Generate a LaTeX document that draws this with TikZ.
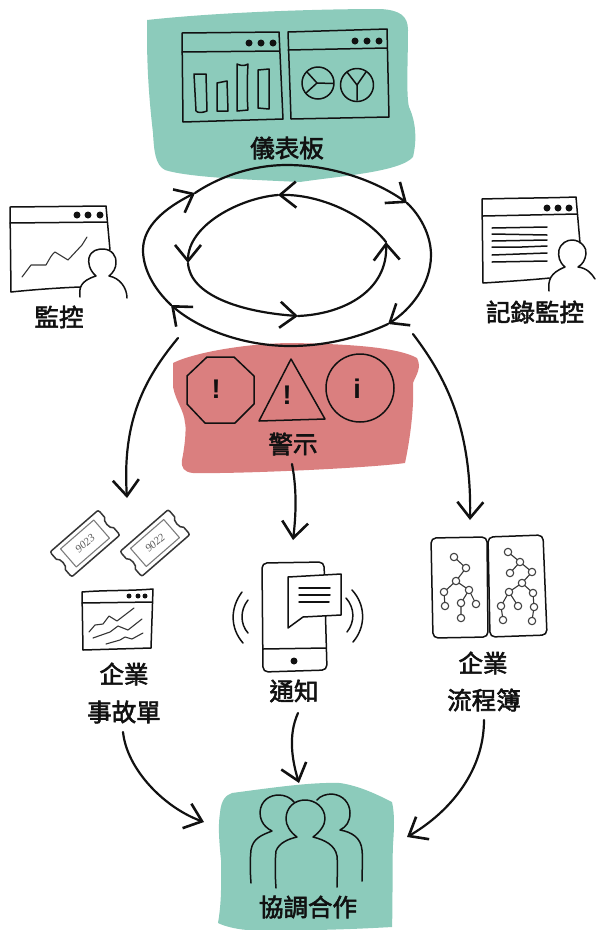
\documentclass[tikz,border=0pt]{standalone}
\usepackage{fontspec}
\usetikzlibrary{arrows.meta}
\newfontfamily\cjk[FakeBold=2.4]{Noto Sans CJK TC}
\newfontfamily\lat{Liberation Sans}
\newfontfamily\hand{Liberation Serif}
\definecolor{ink}{HTML}{111111}
\definecolor{tealblob}{HTML}{8CCBBB}
\definecolor{redblob}{HTML}{DA7F7F}
\tikzset{
  x=1pt,y=-1pt,
  lab/.style={font=\cjk\fontsize{24.5}{24.5}\selectfont,text=ink,inner sep=0pt},
  sym/.style={font=\lat\bfseries\fontsize{27}{27}\selectfont,text=ink,inner sep=0pt},
  blob/.style={line join=round,draw=none},
  sk/.style={draw=ink,line width=1.5pt,line join=round,line cap=round},
  thin sk/.style={draw=ink!85,line width=1.1pt,line join=round,line cap=round},
  conn/.style={draw=ink,line width=2.2pt,line cap=round,-{Straight Barb[length=16pt,width=26pt,line width=2.6pt]}},
  dot/.style={circle,fill=ink,inner sep=0pt,minimum size=7pt},
  tn/.style={draw=ink!80,fill=white,line width=1.1pt},
  tk/.style={font=\hand\itshape\fontsize{11}{11}\selectfont,text=ink!70,inner sep=0pt,rotate=41},
}
\begin{document}
\begin{tikzpicture}
\useasboundingbox (0,0) rectangle (595,930);
% blobs
\fill[tealblob,blob] (147,20) .. controls (220,12) and (320,9) .. (380,9) .. controls (400,10) and (408,16) .. (408,30) .. controls (408,60) and (406,95) .. (409,107) .. controls (416,122) and (417,140) .. (413,157) .. controls (400,172) and (340,176) .. (300,182) .. controls (260,180) and (190,178) .. (165,170) .. controls (155,165) and (154,150) .. (153,133) .. controls (148,90) and (147,60) .. (147,33) -- cycle;
\fill[redblob,blob] (173,363) .. controls (195,352) and (250,343) .. (293,343) .. controls (340,344) and (395,346) .. (417,358) .. controls (422,368) and (416,375) .. (413,383) .. controls (414,400) and (412,430) .. (405,463) .. controls (370,468) and (240,474) .. (193,473) .. controls (184,472) and (181,468) .. (182,460) .. controls (186,440) and (186,425) .. (185,423) .. controls (184,410) and (176,402) .. (173,387) -- cycle;
\fill[tealblob,blob] (232,793) .. controls (270,788) and (310,782) .. (340,783) .. controls (360,786) and (378,795) .. (392,802) .. controls (395,815) and (394,830) .. (393,845) .. controls (392,870) and (393,900) .. (392,927) .. controls (340,930) and (290,931) .. (247,930) .. controls (235,929) and (224,926) .. (218,923) .. controls (222,900) and (221,880) .. (221,860) .. controls (219,840) and (218,825) .. (220,813) .. controls (221,800) and (226,795) .. (232,793) -- cycle;
% dashboard windows
\draw[sk] (182,33) -- (279,32) -- (283,119) -- (183,122) -- cycle;
\draw[sk] (182,52) -- (279,51);
\node[dot] (d1a) at (249,43) {};\node[dot] (d1b) at (261,43) {};\node[dot] (d1c) at (273,43) {};
\draw[sk] (194,74) -- (206,74) -- (207,111) .. controls (202,113) and (198,113) .. (196,111) -- cycle;
\draw[sk] (217,83) -- (227,81) -- (228,111) -- (217,111) -- cycle;
\draw[sk] (237,64) .. controls (241,66) and (245,66) .. (248,64) .. controls (247,80) and (247,100) .. (248,110) -- (237,111) -- cycle;
\draw[sk] (258,70) -- (269,69) -- (269,109) -- (258,108) -- cycle;
\draw[sk] (288,32) -- (387,29) -- (389,117) -- (291,119) -- cycle;
\draw[sk] (288,50) -- (387,48);
\node[dot] (d2a) at (355,41) {};\node[dot] (d2b) at (367,41) {};\node[dot] (d2c) at (379,41) {};
\draw[sk] (318,83) circle[radius=16];
\draw[sk] (307,72) -- (317,83) -- (333,83.500) (317,83) -- (306,93);
\draw[sk] (357,85) circle[radius=16.500];
\draw[sk] (347,72) -- (357,85) -- (366,72) (357,85) -- (357,100);
\node[lab] (dash) at (287,148) {儀表板};
% rings
\coordinate (oa) at (195,193);\coordinate (ob) at (407,203);\coordinate (oc) at (388,324);\coordinate (od) at (171,305);
\coordinate (ia) at (278,195);\coordinate (ib) at (188,263);\coordinate (ic) at (298,316);\coordinate (id) at (386,242);
\draw[conn] (od) .. controls (153,288) and (143,268) .. (143,250) .. controls (143,226) and (165,208) .. (oa);
\draw[conn] (oa) .. controls (222,175) and (255,165) .. (287,165) .. controls (330,165) and (375,180) .. (ob);
\draw[conn] (ob) .. controls (420,215) and (431,235) .. (431,255) .. controls (431,285) and (410,310) .. (oc);
\draw[conn] (oc) .. controls (358,338) and (325,346) .. (290,346) .. controls (245,346) and (200,330) .. (od);
\draw[conn] (id) .. controls (365,215) and (320,194) .. (ia);
\draw[conn] (ia) .. controls (240,198) and (188,225) .. (ib);
\draw[conn] (ib) .. controls (190,295) and (240,312) .. (ic);
\draw[conn] (ic) .. controls (345,314) and (388,290) .. (id);
% monitor
\draw[sk] (80,287) .. controls (55,288) and (30,290) .. (11,292) -- (10,207) -- (106,206) -- (110,250);
\draw[sk] (10,223) -- (107,222);
\node[dot] (m1) at (77,215) {};\node[dot] (m2) at (88,215) {};\node[dot] (m3) at (100,215) {};
\draw[thin sk] (22,277) -- (31,265) -- (46,265) .. controls (50,258) and (52,254) .. (55,252) -- (68,260) -- (82,245) -- (87,237);
\fill[white] (80,298) -- (127,298) -- (127,285) -- (115,250) -- (90,250) -- (80,285) -- cycle;
\draw[sk] (80,297) .. controls (79,288) and (80,281) .. (96,276) .. controls (89,270) and (88,262) .. (89,258) .. controls (91,250) and (98,249) .. (103,249) .. controls (112,249) and (117,257) .. (116,263) .. controls (116,268) and (113,273) .. (109,276) .. controls (120,278) and (127,288) .. (127,298);
\node[lab] (mon) at (59,317) {監控};
% log
\draw[sk] (550,278) .. controls (530,280) and (500,282) .. (483,283) -- (482,199) .. controls (520,198) and (550,198) .. (576,197) -- (580,243);
\draw[sk] (483,216) -- (577,214);
\node[dot] (l1) at (547,208) {};\node[dot] (l2) at (558,208) {};\node[dot] (l3) at (569,208) {};
\draw[sk] (492,228) -- (547,227) (492,234) -- (547,235) (492,241) -- (547,240) (492,247) -- (522,247) -- (547,246) (492,255) -- (547,253) (492,262) -- (547,261);
\fill[white] (549,291) -- (595,286) -- (595,275) -- (584,245) -- (560,245) -- (550,275) -- cycle;
\draw[sk] (549,291) .. controls (548,280) and (550,273) .. (565,267) .. controls (559,262) and (558,256) .. (559,250) .. controls (561,243) and (567,240) .. (572,240) .. controls (581,240) and (587,248) .. (586,254) .. controls (585,260) and (583,264) .. (578,267) .. controls (587,268) and (592,274) .. (595,279);
\node[lab] (logl) at (535,312) {記錄監控};
% alerts
\draw[sk] (207,357) -- (234,357) -- (254,376) -- (254,404) -- (235,423) -- (205,423) -- (187,404) -- (187,376) -- cycle;
\node[sym] (x1) at (216,389) {!};
\draw[sk] (291,359) -- (325,419) -- (259,421) -- cycle;
\node[sym] (x2) at (287,395) {!};
\draw[sk] (360,388) circle[radius=34];
\node[sym] (x3) at (357,389) {i};
\node[lab] (alert) at (293,444) {警示};
% tickets
\foreach \cx/\cy/\t/\nm in {85/543.5/9023/ta,155/543/9022/tb}{
\begin{scope}[shift={(\cx,\cy)},rotate=41]
\draw[sk,draw=ink!85] (-32,-14) .. controls (-32,-16) and (-31,-16.500) .. (-30,-16.500) -- (30,-16.500) .. controls (31,-16.500) and (32,-16) .. (32,-14) -- (32,-7) .. controls (28,-5) and (28,5) .. (32,7) -- (32,14) .. controls (32,16) and (31,16.500) .. (30,16.500) -- (-30,16.500) .. controls (-31,16.500) and (-32,16) .. (-32,14) -- (-32,7) .. controls (-28,5) and (-28,-5) .. (-32,-7) -- cycle;
\draw[thin sk,draw=ink!55] (-22,-12) -- (22,-12) -- (22,12) -- (-22,12) -- cycle;
\node[tk] (\nm) at (0,0) {\t};
\end{scope}}
% small window
\draw[sk] (82,592) .. controls (105,590) and (130,591) .. (153,589) -- (151,648) -- (83,650) -- cycle;
\draw[sk] (82,603) -- (152,602);
\node[dot,minimum size=5pt] (s1) at (129,596) {};\node[dot,minimum size=5pt] (s2) at (138,596) {};\node[dot,minimum size=5pt] (s3) at (145,596) {};
\draw[thin sk] (89,632) -- (95,625) -- (103,624) -- (109,616) -- (117,621) -- (134,608);
\draw[thin sk] (93,638) -- (110,632) -- (118,626) -- (128,630) -- (142,619);
\draw[thin sk] (106,644) -- (120,640) -- (125,637) -- (132,639) -- (143,633);
\node[lab] (inc1) at (124,674) {企業};
\node[lab] (inc2) at (124,712) {事故單};
% phone
\draw[sk,rounded corners=5pt] (262,563) -- (324,562) -- (327,670) -- (263,672) -- cycle;
\draw[sk] (263,649) -- (326,648);
\node[dot] (pd) at (294,661) {};
\draw[sk,fill=white] (288,577) -- (341,574) -- (341,615) -- (303,617) -- (288,628) -- cycle;
\draw[sk] (299,588) -- (330,588) (299,595) -- (330,595) (299,602) -- (329,602);
\draw[sk] (242,592) .. controls (230,608) and (230,628) .. (243,643);
\draw[sk] (248,600) .. controls (240,610) and (240,624) .. (248,633);
\draw[sk] (346,598) .. controls (355,608) and (355,622) .. (347,632);
\draw[sk] (352,590) .. controls (366,605) and (366,627) .. (353,642);
\node[lab] (noti) at (294,691) {通知};
% book
\draw[sk,rounded corners=5pt] (431,538) -- (487,537) -- (488,637) -- (433,638) -- cycle;
\draw[sk,rounded corners=5pt] (488,537) -- (543,535) -- (547,635) -- (490,637) -- cycle;
\draw[thin sk] (454,557) -- (466,568) -- (456,581) -- (444,592) -- (445,606) (456,581) -- (469,590) -- (461,603) -- (461,618) (469,590) -- (476,604);
\foreach \x/\y in {454/557,466/568,456/581,444/592,469/590,445/606,461/603,476/604,461/618}{\filldraw[tn] (\x,\y) circle[radius=3.7];}
\draw[thin sk] (508,552) -- (520,562) -- (510,573) (520,562) -- (532,572) -- (522,583) -- (509,592) -- (501,606) -- (503,620) (509,592) -- (518,606) (522,583) -- (533,593) -- (534,607) -- (532,621);
\foreach \x/\y in {508/552,520/562,510/573,532/572,522/583,509/592,533/593,501/606,518/606,534/607,503/620,532/621}{\filldraw[tn] (\x,\y) circle[radius=3.7];}
\node[lab] (bk1) at (483,663) {企業};
\node[lab] (bk2) at (484,700) {流程簿};
% people
\draw[sk] (251,883) .. controls (250,870) and (250,860) .. (251,850) .. controls (253,838) and (262,835) .. (272,831) .. controls (262,826) and (260,818) .. (260,812) .. controls (261,800) and (270,795) .. (279,795) .. controls (285,795) and (291,798) .. (294,802);
\draw[sk] (317,800) .. controls (320,796) and (326,794) .. (332,794) .. controls (343,795) and (350,803) .. (350,813) .. controls (350,822) and (346,827) .. (340,830) .. controls (352,832) and (361,838) .. (362,850) .. controls (363,860) and (362,870) .. (362,881);
\draw[sk] (276,888) .. controls (275,875) and (275,860) .. (276,851) .. controls (279,843) and (288,839) .. (297,837) .. controls (290,832) and (286,825) .. (286,819) .. controls (286,807) and (295,800) .. (305,800) .. controls (315,800) and (325,807) .. (325,819) .. controls (325,825) and (320,832) .. (313,837) .. controls (325,840) and (335,845) .. (337,856) .. controls (338,868) and (337,878) .. (337,887);
\node[lab] (coll) at (308,907) {協調合作};
% connectors
\coordinate (la) at (178,338);\coordinate (lb) at (127,498);
\coordinate (ra) at (413,334);\coordinate (rb) at (470,520);
\coordinate (aa) at (292,464);\coordinate (ab) at (293,540);
\coordinate (ba) at (123,732);\coordinate (bb) at (204,822);
\coordinate (ca) at (298,713);\coordinate (cb) at (299,783);
\coordinate (ea) at (484,720);\coordinate (eb) at (407,837);
\draw[conn] (la) .. controls (145,378) and (122,420) .. (lb);
\draw[conn] (ra) .. controls (440,370) and (472,420) .. (rb);
\draw[conn] (aa) .. controls (297,490) and (296,515) .. (ab);
\draw[conn] (ba) .. controls (127,770) and (165,808) .. (bb);
\draw[conn] (ca) .. controls (288,735) and (292,760) .. (cb);
\draw[conn] (ea) .. controls (484,775) and (445,815) .. (eb);
\end{tikzpicture}
\end{document}
